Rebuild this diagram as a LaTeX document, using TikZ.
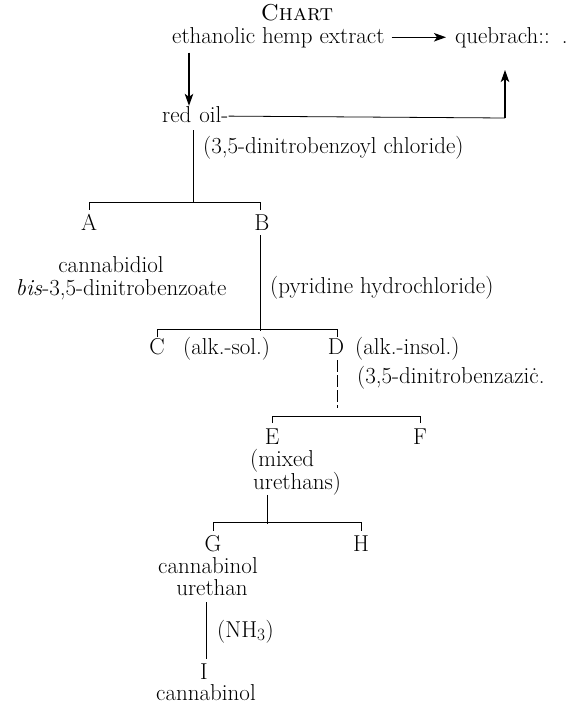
\documentclass[tikz,border=0pt]{standalone}
\usetikzlibrary{arrows.meta,calc}
\begin{document}
\begin{tikzpicture}[x=1pt,y=-1pt,
 txt/.style={inner sep=0pt, font=\fontsize{23}{25}\selectfont},
 ln/.style={line width=0.8pt},
 brk/.style={line width=0.8pt, dash pattern=on 12pt off 3pt},
 arr/.style={line width=1.3pt, -{Stealth[length=12pt,width=8.5pt,inset=3pt]}}]
\useasboundingbox (0,0) rectangle (583,704);

% texts
\node[txt, anchor=base] (chart) at (297,20) {\textsc{Chart}};
\node[txt, anchor=base west] (eth) at (172,43) {ethanolic hemp extract};
\node[txt, anchor=base west] (queb) at (455,43) {quebrach::\hspace{12pt}.};
\node[txt, anchor=base west] (redoil) at (162,122) {red\hspace{8pt}oil-};
\node[txt, anchor=base west] (reag1) at (203,153) {(3,5-dinitrobenzoyl chloride)};
\node[txt, anchor=base] (A) at (89,230) {A};
\node[txt, anchor=base] (B) at (262,230) {B};
\node[txt, anchor=base] (cbd1) at (111,272) {cannabidiol};
\node[txt, anchor=base] (cbd2) at (121,295) {\textit{bis}-3,5-dinitrobenzoate};
\node[txt, anchor=base west] (reag2) at (270,293) {(pyridine hydrochloride)};
\node[txt, anchor=base] (C) at (157,354) {C};
\node[txt, anchor=base west] (alks) at (183,354) {(alk.-sol.)};
\node[txt, anchor=base] (D) at (336,354) {D};
\node[txt, anchor=base west] (alki) at (355,354) {(alk.-insol.)};
\node[txt, anchor=base west] (reag3) at (357,383) {(3,5-dinitrobenzazi\.{c}.};
\node[txt, anchor=base] (E) at (272,444) {E};
\node[txt, anchor=base west] (F) at (413,444) {F};
\node[txt, anchor=base west] (mixed) at (250,466) {(mixed};
\node[txt, anchor=base west] (ureth) at (253,489) {urethans)};
\node[txt, anchor=base] (G) at (213,551) {G};
\node[txt, anchor=base] (H) at (361,551) {H};
\node[txt, anchor=base] (cbn1) at (208,573) {cannabinol};
\node[txt, anchor=base] (cbn2) at (212,595) {urethan};
\node[txt, anchor=base west] (nh3) at (217,637) {(NH$_3$)};
\node[txt, anchor=base] (I) at (204,679) {I};
\node[txt, anchor=base] (cbn3) at (206,700) {cannabinol};

% arrows at top
\draw[arr] ($(eth.east)+(7,0)$) -- ($(queb.west)+(-9,0)$);
\coordinate (c1) at ($(eth.south west)+(17,5)$);
\draw[arr] (c1) -- (c1 |- redoil.north);
\coordinate (r1) at (505,118);
\coordinate (r2) at (505,70);
\draw[ln] ($(redoil.east)+(0,2)$) -- (r1);
\draw[arr] (r1) -- (r2);

% tree
\draw[ln] ($(redoil.south west)+(31,8)$) -- ++(0,73);
\draw[ln] ($(A.north)+(0,-4)$) -- ++(0,-7) -| ($(B.north)+(-2,-4)$);
\draw[ln] ($(B.south)+(-2,5)$) -- ++(0,96);
\draw[ln] ($(C.north)+(0,-1)$) -- ++(0,-7) -| ($(D.north)+(1,-1)$);
\draw[brk] ($(D.south)+(1,6)$) -- ++(0,48);
\draw[ln] ($(E.north)+(0,-5)$) -- ++(0,-7) -| ($(F.north)+(0,-5)$);
\draw[ln] ($(ureth.south west)+(14,0)$) -- ++(0,29);
\draw[ln] ($(G.north)+(0,-4)$) -- ++(0,-8) -| ($(H.north)+(0,-4)$);
\draw[ln] ($(cbn2.south)+(-6,7)$) -- ++(0,57);
\end{tikzpicture}
\end{document}
